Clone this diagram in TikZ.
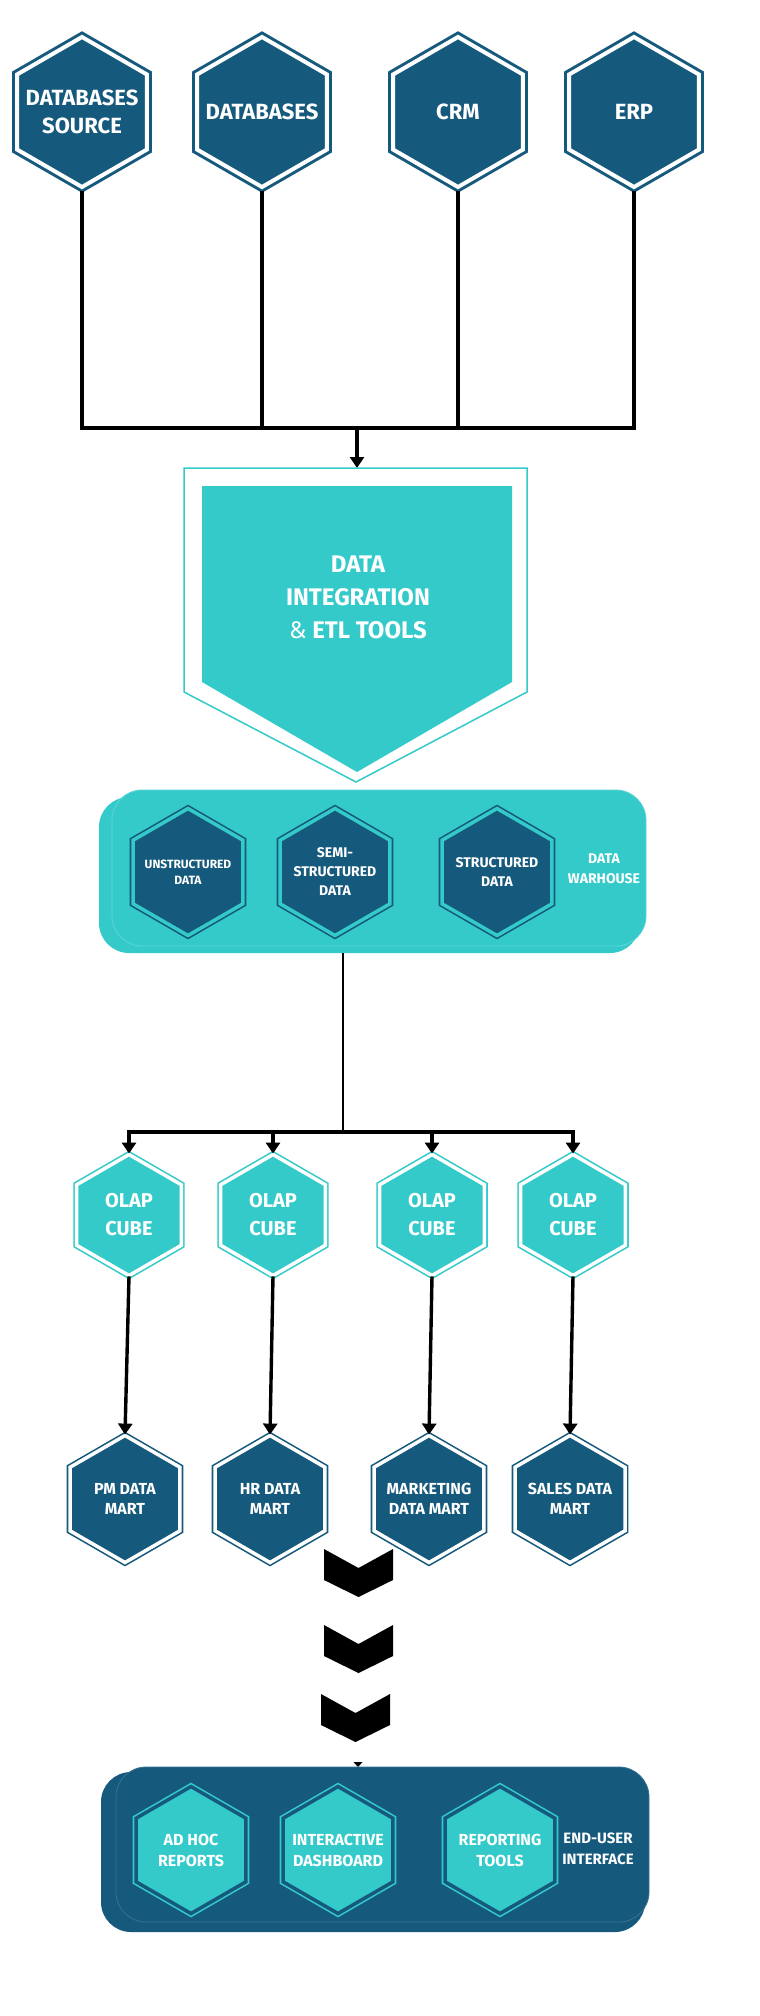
\documentclass[tikz,border=0pt]{standalone}
\usepackage{fontspec}
\setmainfont{Fira Sans}
\usetikzlibrary{shapes.geometric,arrows.meta}
\definecolor{dkblue}{HTML}{15597C}
\definecolor{tealc}{HTML}{35CACA}
\newcommand\fsz[2]{\fontsize{#1}{#2}\selectfont}
\tikzset{
 hexbase/.style={regular polygon, regular polygon sides=6, shape border rotate=30, inner sep=0pt},
 tophex/.style={hexbase, minimum size=150pt, fill=dkblue, draw=dkblue, double=white, double distance=4pt, line width=3pt},
 dwhex/.style={hexbase, minimum size=127pt, fill=dkblue, draw=dkblue, double=tealc, double distance=3.5pt, line width=1.6pt},
 olaphex/.style={hexbase, minimum size=121pt, fill=tealc, draw=tealc, double=white, double distance=3.5pt, line width=1.6pt},
 dmhex/.style={hexbase, minimum size=127pt, fill=dkblue, draw=dkblue, double=white, double distance=3.5pt, line width=1.6pt},
 euhex/.style={hexbase, minimum size=127pt, fill=tealc, draw=tealc, double=dkblue, double distance=3.5pt, line width=1.6pt},
 lbl/.style={text=white, align=center, inner sep=0pt, font=\bfseries},
 conn/.style={draw=black, line width=3.4pt, line cap=rect},
 arr/.style={draw=black, line width=3.4pt, -{Triangle[length=11pt,width=14pt]}},
 roundbox/.style={rectangle, rounded corners=30pt, inner sep=0pt},
}
\begin{document}
\begin{tikzpicture}[x=1pt,y=-1pt]
\useasboundingbox (0,0) rectangle (760,2016);
\fill[white] (0,0) rectangle (760,2016);

% ---- sources
\node[tophex] (src1) at (82,112) {};
\node[tophex] (src2) at (262,112) {};
\node[tophex] (src3) at (458,112) {};
\node[tophex] (src4) at (634,112) {};
\node[lbl, font=\bfseries\fsz{22}{28}] (src1t) at (src1) {DATABASES\\SOURCE};
\node[lbl, font=\bfseries\fsz{22}{28}] (src2t) at (src2) {DATABASES};
\node[lbl, font=\bfseries\fsz{22}{28}] (src3t) at (src3) {CRM};
\node[lbl, font=\bfseries\fsz{22}{28}] (src4t) at (src4) {ERP};

\coordinate (b1) at (82,428);
\coordinate (b2) at (262,428);
\coordinate (b3) at (458,428);
\coordinate (b4) at (634,428);
\coordinate (bm) at (357,428);
\coordinate (etltop) at (357,468);
\draw[conn] ([yshift=-4pt]src1.south) -- (b1) -- (b4) -- ([yshift=-4pt]src4.south);
\draw[conn] ([yshift=-4pt]src2.south) -- (b2);
\draw[conn] ([yshift=-4pt]src3.south) -- (b3);
\draw[arr] (bm) -- (etltop);

% ---- ETL
\draw[tealc, line width=1.5pt] (184,468) -- (527,468) -- (527,692) -- (356,782) -- (184,692) -- cycle;
\fill[tealc] (202,486) -- (512,486) -- (512,682) -- (357,772) -- (202,682) -- cycle;
\node[lbl, font=\bfseries\fsz{24}{33}] (etl) at (358,597) {DATA\\INTEGRATION\\{\mdseries\&} ETL TOOLS};

% ---- data warehouse
\node[roundbox, fill=tealc, minimum width=541pt, minimum height=156pt] (dwA) at (369.5,875) {};
\node[roundbox, fill=tealc, draw=tealc!80!white, line width=0.8pt, minimum width=534pt, minimum height=156pt] (dw) at (379,868) {};
\node[dwhex] (uns) at (188,872) {};
\node[dwhex] (semi) at (335,872) {};
\node[dwhex] (str) at (497,872) {};
\node[lbl, font=\bfseries\fsz{12}{16}] (unst) at (uns) {UNSTRUCTURED\\DATA};
\node[lbl, font=\bfseries\fsz{14}{19}] (semit) at (semi) {SEMI-\\STRUCTURED\\DATA};
\node[lbl, font=\bfseries\fsz{14}{19}] (strt) at (str) {STRUCTURED\\DATA};
\node[lbl, font=\bfseries\fsz{14}{20}] (dwt) at (604,869) {DATA\\WARHOUSE};

% ---- to OLAP
\coordinate (cm) at (343,1132);
\coordinate (c1) at (129,1132);
\coordinate (c2) at (273,1132);
\coordinate (c3) at (432,1132);
\coordinate (c4) at (573,1132);
\draw[draw=black, line width=2pt] (cm |- dwA.south) -- (cm);
\draw[conn] (c1) -- (c4);

\node[olaphex] (o1) at (129,1215) {};
\node[olaphex] (o2) at (273,1215) {};
\node[olaphex] (o3) at (432,1215) {};
\node[olaphex] (o4) at (573,1215) {};
\foreach \i in {1,2,3,4}{
  \node[lbl, font=\bfseries\fsz{20}{28}] (o\i t) at (o\i) {OLAP\\CUBE};
  \draw[arr] (c\i) -- (o\i.north);
}

% ---- data marts
\node[dmhex] (d1) at (125,1499) {};
\node[dmhex] (d2) at (270,1499) {};
\node[dmhex] (d3) at (429,1499) {};
\node[dmhex] (d4) at (570,1499) {};
\node[lbl, font=\bfseries\fsz{16}{20}] (d1t) at (d1) {PM DATA\\MART};
\node[lbl, font=\bfseries\fsz{16}{20}] (d2t) at (d2) {HR DATA\\MART};
\node[lbl, font=\bfseries\fsz{16}{20}] (d3t) at (d3) {MARKETING\\DATA MART};
\node[lbl, font=\bfseries\fsz{16}{20}] (d4t) at (d4) {SALES DATA\\MART};
\foreach \i in {1,2,3,4}{
  \draw[arr] (o\i.south) -- (d\i.north);
}

% ---- chevrons
\foreach \x/\y [count=\k] in {324/1549, 324/1625, 321/1694}{
  \coordinate (chev\k) at (\x,\y);
  \fill[black] (chev\k) -- ++(34.5,19) -- ++(34.5,-19) -- ++(0,31) -- ++(-34.5,17) -- ++(-34.5,-17) -- cycle;
}
\coordinate (tipc) at (358,1767);
\fill[black] (tipc) -- ++(-4.5,-5) -- ++(9,0) -- cycle;

% ---- end-user interface
\node[roundbox, fill=dkblue, minimum width=544pt, minimum height=160pt] (euA) at (373,1852) {};
\node[roundbox, fill=dkblue, draw=dkblue!85!white, line width=0.8pt, minimum width=533pt, minimum height=155pt] (eu) at (382.5,1844.5) {};
\node[euhex] (e1) at (191,1850) {};
\node[euhex] (e2) at (338,1850) {};
\node[euhex] (e3) at (500,1850) {};
\node[lbl, font=\bfseries\fsz{16}{21}] (e1t) at (e1) {AD HOC\\REPORTS};
\node[lbl, font=\bfseries\fsz{16}{21}] (e2t) at (e2) {INTERACTIVE\\DASHBOARD};
\node[lbl, font=\bfseries\fsz{16}{21}] (e3t) at (e3) {REPORTING\\TOOLS};
\node[lbl, font=\bfseries\fsz{15}{21}] (eut) at (598,1849) {END-USER\\INTERFACE};
\end{tikzpicture}
\end{document}
